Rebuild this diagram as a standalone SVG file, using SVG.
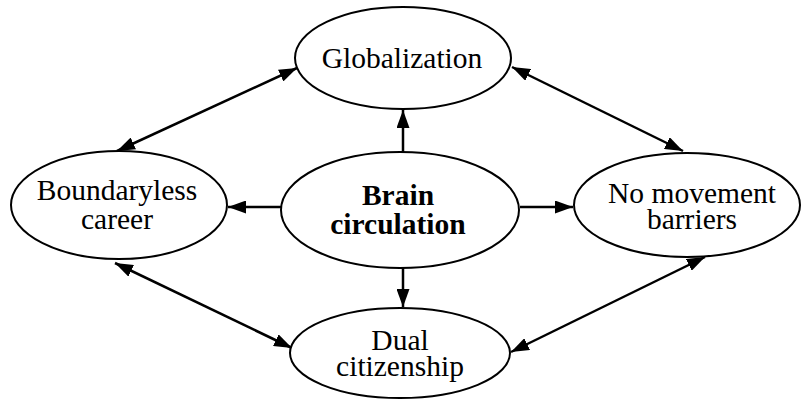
<svg xmlns="http://www.w3.org/2000/svg" width="803" height="401" viewBox="0 0 803 401">
<style>
.n ellipse{fill:#fff;stroke:#000;stroke-width:2}
.t{font-family:"Liberation Serif","Times New Roman",serif;font-size:29.5px;fill:#000;text-anchor:middle}
.b{font-weight:bold}
.c line{stroke:#000;stroke-width:2.5}
</style>
<defs>
<marker id="ah" viewBox="0 0 18 13" refX="18" refY="6.5" markerWidth="18" markerHeight="13" markerUnits="userSpaceOnUse" orient="auto-start-reverse">
<path d="M0,0 L18,6.5 L0,13 Z" fill="#000"/>
</marker>
</defs>
<rect width="803" height="401" fill="#fff"/>
<g id="connectors" class="c">
<line x1="403" y1="152" x2="403" y2="110" marker-end="url(#ah)"/>
<line x1="282" y1="207" x2="228" y2="207" marker-end="url(#ah)"/>
<line x1="520" y1="207" x2="573" y2="207" marker-end="url(#ah)"/>
<line x1="403" y1="268" x2="403" y2="307" marker-end="url(#ah)"/>
<line x1="297" y1="68" x2="117" y2="151" marker-start="url(#ah)" marker-end="url(#ah)"/>
<line x1="512" y1="67" x2="683" y2="151" marker-start="url(#ah)" marker-end="url(#ah)"/>
<line x1="115" y1="263" x2="292" y2="348" marker-start="url(#ah)" marker-end="url(#ah)"/>
<line x1="705" y1="257" x2="511" y2="352" marker-start="url(#ah)" marker-end="url(#ah)"/>
</g>
<g id="globalization" class="n">
<ellipse cx="403" cy="58" rx="108" ry="51"/>
<text class="t" x="402" y="68">Globalization</text>
</g>
<g id="brain" class="n">
<ellipse cx="400" cy="210" rx="119" ry="58"/>
<text class="t b" x="398" y="205">Brain</text>
<text class="t b" x="398" y="234">circulation</text>
</g>
<g id="boundaryless" class="n">
<ellipse cx="119" cy="205" rx="108" ry="54"/>
<text class="t" x="117" y="200">Boundaryless</text>
<text class="t" x="117" y="229">career</text>
</g>
<g id="nomovement" class="n">
<ellipse cx="687" cy="205" rx="113" ry="52"/>
<text class="t" x="692" y="203">No movement</text>
<text class="t" x="692" y="229">barriers</text>
</g>
<g id="dual" class="n">
<ellipse cx="400" cy="353" rx="110" ry="45"/>
<text class="t" x="400" y="350">Dual</text>
<text class="t" x="400" y="376">citizenship</text>
</g>
</svg>
